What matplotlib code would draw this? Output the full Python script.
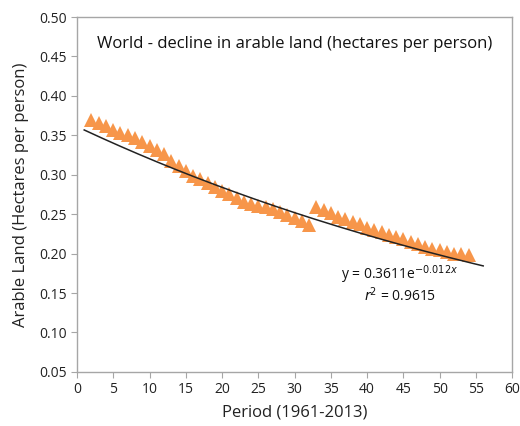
import numpy as np
import matplotlib
matplotlib.use("Agg")
import matplotlib.pyplot as plt

plt.rcParams['font.family'] = ['Open Sans', 'DejaVu Sans']

# Data: period index and arable land (hectares per person)
period = list(range(2, 55))
arable = [0.369, 0.366, 0.362, 0.357, 0.353, 0.350, 0.346, 0.341, 0.336, 0.332,
          0.326, 0.318, 0.311, 0.305, 0.299, 0.294, 0.289, 0.284, 0.279, 0.275,
          0.270, 0.266, 0.263, 0.261, 0.259, 0.256, 0.253, 0.249, 0.245, 0.241,
          0.236,
          0.259, 0.255, 0.251, 0.247, 0.244, 0.240, 0.237, 0.233, 0.230, 0.227,
          0.224, 0.221, 0.218, 0.215, 0.212, 0.209, 0.206, 0.204, 0.202, 0.200,
          0.199, 0.198]

# Trendline parameters (from the chart)
coef_a = 0.3611
coef_b = -0.012
trend_start, trend_end = 1, 56

xticks = list(range(0, 61, 5))
yticks = [0.05, 0.10, 0.15, 0.20, 0.25, 0.30, 0.35, 0.40, 0.45, 0.50]

fig = plt.figure(figsize=(5.2, 4.26), dpi=100)
ax = fig.add_axes([0.148, 0.127, 0.837, 0.833])

ax.plot(period, arable, linestyle='none', marker='^', markersize=10.5,
        color='#F7964A', markeredgewidth=0, zorder=2)

tx = np.linspace(trend_start, trend_end, 200)
ax.plot(tx, coef_a * np.exp(coef_b * tx), color='#222222', linewidth=1.1, zorder=3)

ax.set_xlim(0, 60)
ax.set_ylim(0.05, 0.50)
ax.set_xticks(xticks)
ax.set_yticks(yticks)
ax.set_yticklabels([f"{v:.2f}" for v in yticks])

for s in ax.spines.values():
    s.set_color('#A6A6A6')
    s.set_linewidth(1.0)
ax.tick_params(axis='both', direction='out', length=4, color='#A6A6A6',
               labelsize=10, labelcolor='#222222', pad=3)

ax.set_xlabel('Period (1961-2013)', fontsize=12, color='#222222', labelpad=6)
ax.set_ylabel('Arable Land (Hectares per person)', fontsize=12, color='#222222', labelpad=8)

ax.text(0.5, 0.925, 'World - decline in arable land (hectares per person)',
        transform=ax.transAxes, ha='center', va='center', fontsize=12, color='#111111')

ax.text(44.5, 0.173, r'y = 0.3611e$^{-0.012x}$', ha='center', va='center',
        fontsize=10, color='#111111')
ax.text(44.5, 0.146, r'$\it{r}$$^{2}$ = 0.9615', ha='center', va='center',
        fontsize=10, color='#111111')

fig.savefig('out.png', dpi=100, facecolor='white')
